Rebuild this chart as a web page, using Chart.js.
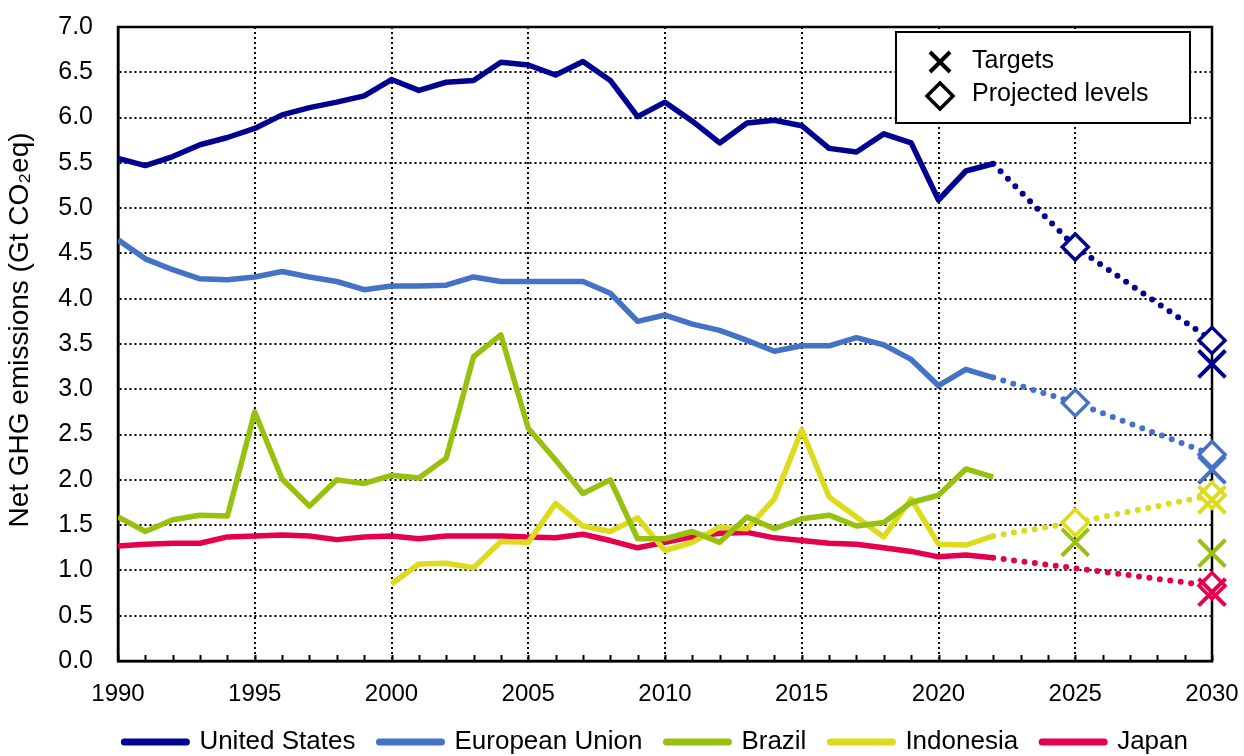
<!DOCTYPE html>
<html lang="en">
<head>
<meta charset="UTF-8">
<title>Net GHG emissions</title>
<script src="https://cdn.jsdelivr.net/npm/chart.js"></script>
<style>
  html, body { margin: 0; padding: 0; background: #fff; }
</style>
</head>
<body>
<canvas id="ghgChart" width="1244" height="756"></canvas>
<script>
// historic net emissions, Gt CO2eq
const years = [1990, 1991, 1992, 1993, 1994, 1995, 1996, 1997, 1998, 1999,
               2000, 2001, 2002, 2003, 2004, 2005, 2006, 2007, 2008, 2009,
               2010, 2011, 2012, 2013, 2014, 2015, 2016, 2017, 2018, 2019,
               2020, 2021, 2022];
const usEmissions = [5.55, 5.47, 5.57, 5.70, 5.78, 5.88, 6.03, 6.11, 6.17, 6.24,
                     6.42, 6.30, 6.39, 6.41, 6.61, 6.58, 6.47, 6.62, 6.41, 6.01,
                     6.17, 5.96, 5.72, 5.94, 5.97, 5.91, 5.66, 5.62, 5.82, 5.72,
                     5.09, 5.41, 5.49];
const euEmissions = [4.65, 4.44, 4.32, 4.22, 4.21, 4.24, 4.30, 4.24, 4.19, 4.10,
                     4.14, 4.14, 4.15, 4.24, 4.19, 4.19, 4.19, 4.19, 4.06, 3.75,
                     3.82, 3.72, 3.65, 3.54, 3.42, 3.48, 3.48, 3.57, 3.49, 3.33,
                     3.04, 3.22, 3.13];
const brazilEmissions = [1.59, 1.43, 1.56, 1.61, 1.60, 2.75, 2.01, 1.71, 2.00, 1.96,
                         2.05, 2.02, 2.24, 3.36, 3.60, 2.57, 2.22, 1.85, 2.00, 1.35,
                         1.35, 1.43, 1.31, 1.59, 1.46, 1.57, 1.61, 1.49, 1.53, 1.75,
                         1.83, 2.12, 2.03];
const indonesiaEmissions = [null, null, null, null, null, null, null, null, null, null,
                            0.85, 1.07, 1.08, 1.03, 1.32, 1.31, 1.74, 1.49, 1.43, 1.58,
                            1.22, 1.31, 1.48, 1.46, 1.79, 2.55, 1.81, 1.59, 1.37, 1.79,
                            1.29, 1.28, 1.38];
const japanEmissions = [1.27, 1.29, 1.30, 1.30, 1.37, 1.38, 1.39, 1.38, 1.34, 1.37,
                        1.38, 1.35, 1.38, 1.38, 1.38, 1.37, 1.36, 1.40, 1.33, 1.25,
                        1.31, 1.37, 1.41, 1.42, 1.36, 1.33, 1.30, 1.29, 1.25, 1.21,
                        1.15, 1.17, 1.14];

// projected levels (first value = last historic year)
const projYears = [2022, 2025, 2030];
const usProjected = [5.49, 4.57, 3.54];
const euProjected = [3.13, 2.85, 2.28];
const indonesiaProjected = [1.38, 1.53, 1.83];
const japanProjected = [1.14, null, 0.83];

// targets
const targetYears = [2025, 2030];
const usTargets = [null, 3.28];
const euTargets = [null, 2.11];
const brazilTargets = [1.31, 1.19];
const indonesiaTargets = [null, 1.78];
const japanTargets = [null, 0.76];

const yTicks = [0, 7, 0.5];   // min, max, step
const keyLabels = ['Targets', 'Projected levels'];

const colors = {
    us: '#000091',
    eu: '#4472C4',
    brazil: '#98C00E',
    indonesia: '#DEDB1F',
    japan: '#E5004F'
};

const FONT = '"Liberation Sans", Arial, sans-serif';

function pts(xs, ys) {
    return xs.map((x, i) => ({x: x, y: ys[i]}));
}

function historic(label, values, color) {
    return {
        label: label, inLegend: true, order: 2,
        data: pts(years, values),
        borderColor: color, backgroundColor: color,
        borderWidth: 5.5, pointRadius: 0, tension: 0,
        borderJoinStyle: 'round'
    };
}

function projected(values, color) {
    return {
        label: 'proj', order: 1, clip: false, spanGaps: true,
        data: pts(projYears, values),
        borderColor: color, borderWidth: 6,
        borderDash: [0, 10.5], borderCapStyle: 'round',
        pointStyle: 'rectRot',
        pointRadius: values.map((v, i) => i === 0 ? 0 : 13),
        pointBorderColor: color, pointBackgroundColor: '#fff',
        pointBorderWidth: 3.5, tension: 0
    };
}

function targets(values, color) {
    return {
        label: 'target', order: 0, clip: false, showLine: false,
        data: pts(targetYears, values),
        pointStyle: 'crossRot', pointRadius: 19,
        pointBorderColor: color, pointBorderWidth: 4
    };
}

// plot frame + minor year ticks, then the marker key box
const framePlugin = {
    id: 'framePlugin',
    beforeDatasetsDraw(chart) {
        const {ctx, chartArea: a, scales: {x}} = chart;
        ctx.save();
        ctx.strokeStyle = '#000';
        ctx.lineWidth = 2.5;
        ctx.strokeRect(a.left, a.top, a.right - a.left, a.bottom - a.top);
        ctx.lineWidth = 2;
        for (let yr = x.min; yr <= x.max; yr++) {
            const px = Math.round(x.getPixelForValue(yr)) + 0.5;
            ctx.beginPath();
            ctx.moveTo(px, a.bottom);
            ctx.lineTo(px, a.bottom - 6);
            ctx.stroke();
        }
        ctx.restore();
    },
    afterDatasetsDraw(chart) {
        const {ctx, chartArea: a} = chart;
        const left = a.right - 316, top = a.top + 5;
        ctx.save();
        ctx.fillStyle = '#fff';
        ctx.fillRect(left, top, 294, 91);
        ctx.strokeStyle = '#000';
        ctx.lineWidth = 2;
        ctx.strokeRect(left, top, 294, 91);

        const mx = left + 44;
        // X
        ctx.lineWidth = 4;
        ctx.beginPath();
        ctx.moveTo(mx - 10, top + 20); ctx.lineTo(mx + 10, top + 40);
        ctx.moveTo(mx + 10, top + 20); ctx.lineTo(mx - 10, top + 40);
        ctx.stroke();
        // diamond
        ctx.lineWidth = 3.5;
        ctx.beginPath();
        ctx.moveTo(mx, top + 51); ctx.lineTo(mx + 13, top + 64);
        ctx.lineTo(mx, top + 77); ctx.lineTo(mx - 13, top + 64);
        ctx.closePath();
        ctx.stroke();

        ctx.fillStyle = '#000';
        ctx.font = '25px ' + FONT;
        ctx.textBaseline = 'middle';
        ctx.fillText(keyLabels[0], left + 76, top + 29);
        ctx.fillText(keyLabels[1], left + 76, top + 62);
        ctx.restore();
    }
};

const ctx = document.getElementById('ghgChart').getContext('2d');
const chart = new Chart(ctx, {
    type: 'line',
    data: {
        datasets: [
            historic('United States', usEmissions, colors.us),
            historic('European Union', euEmissions, colors.eu),
            historic('Brazil', brazilEmissions, colors.brazil),
            historic('Indonesia', indonesiaEmissions, colors.indonesia),
            historic('Japan', japanEmissions, colors.japan),
            projected(usProjected, colors.us),
            projected(euProjected, colors.eu),
            projected(indonesiaProjected, colors.indonesia),
            projected(japanProjected, colors.japan),
            targets(usTargets, colors.us),
            targets(euTargets, colors.eu),
            targets(brazilTargets, colors.brazil),
            targets(indonesiaTargets, colors.indonesia),
            targets(japanTargets, colors.japan)
        ]
    },
    options: {
        responsive: false,
        animation: false,
        devicePixelRatio: 1,
        layout: {
            padding: {left: 0, right: 32, top: 27, bottom: -9}
        },
        plugins: {
            tooltip: {enabled: false},
            legend: {
                position: 'bottom',
                align: 'end',
                labels: {
                    usePointStyle: true,
                    pointStyleWidth: 62,
                    padding: 24,
                    color: '#000',
                    font: {family: FONT, size: 26},
                    generateLabels: (chart) => chart.data.datasets
                        .map((ds, i) => ({ds: ds, i: i}))
                        .filter(o => o.ds.inLegend)
                        .map(o => ({
                            text: o.ds.label,
                            fillStyle: o.ds.borderColor,
                            strokeStyle: o.ds.borderColor,
                            lineWidth: 7,
                            lineCap: 'round',
                            pointStyle: 'line',
                            fontColor: '#000',
                            hidden: false,
                            datasetIndex: o.i
                        }))
                }
            }
        },
        scales: {
            x: {
                type: 'linear',
                min: 1990,
                max: 2030,
                afterFit: (s) => {
                    s.height = 44;
                    s.paddingLeft = 0;
                    s.paddingRight = 0;
                },
                ticks: {
                    stepSize: 5,
                    padding: 19,
                    color: '#000',
                    maxRotation: 0,
                    font: {family: FONT, size: 24},
                    callback: (v) => String(v)
                },
                grid: {color: '#000', lineWidth: 2, drawTicks: false},
                border: {color: '#000', width: 2.5, dash: [2, 3]}
            },
            y: {
                min: yTicks[0],
                max: yTicks[1],
                afterFit: (s) => {
                    s.width = 118;
                    s.paddingTop = 0;
                    s.paddingBottom = 0;
                },
                ticks: {
                    stepSize: yTicks[2],
                    padding: 25,
                    color: '#000',
                    font: {family: FONT, size: 25},
                    callback: (v) => v.toFixed(1)
                },
                grid: {color: '#000', lineWidth: 2, drawTicks: false},
                border: {color: '#000', width: 2.5, dash: [2, 3]},
                title: {
                    display: true,
                    text: '\u2002\u2002Net GHG emissions (Gt CO\u2082eq)',
                    color: '#000',
                    padding: {top: 3, bottom: 0},
                    font: {family: FONT, size: 28}
                }
            }
        }
    },
    plugins: [framePlugin]
});
</script>
</body>
</html>
